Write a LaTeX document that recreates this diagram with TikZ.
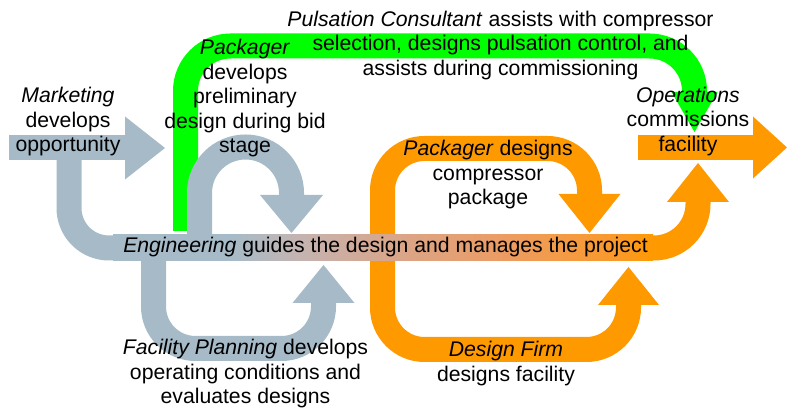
\documentclass[tikz,border=0pt]{standalone}
\usepackage{fontspec}
\setmainfont{Liberation Sans}
\usetikzlibrary{arrows.meta}

\definecolor{bluegray}{RGB}{166,187,199}
\definecolor{amber}{RGB}{255,153,0}
\definecolor{lime}{RGB}{0,255,0}
\definecolor{rosy}{RGB}{196,180,178}
\definecolor{tan}{RGB}{216,166,140}
\definecolor{peach}{RGB}{236,156,100}
\definecolor{deeporange}{RGB}{250,153,40}
\pgfdeclarehorizontalshading{engshade}{100bp}{color(0bp)=(bluegray); color(36bp)=(bluegray); color(42bp)=(rosy); color(50.5bp)=(tan); color(61bp)=(peach); color(72bp)=(deeporange); color(75bp)=(amber); color(100bp)=(amber)}

\begin{document}
\begin{tikzpicture}[x=1pt,y=1pt,
	band/.style={line width=25pt},
	gray band/.style={band,draw=bluegray},
	orange band/.style={band,draw=amber},
	green band/.style={band,draw=lime},
	bighead/.style 2 args={-{Triangle[width=#1,length=#2,line width=0pt]}},
	label/.style={align=center,inner sep=0pt,font=\fontsize{21.2}{24.5}\selectfont}]
	
	\useasboundingbox (0,0) rectangle (788,411);
	
	% green loop, behind everything
	\coordinate (pc1) at (185.5,180);
	\coordinate (pc2) at (185.5,365);
	\coordinate (pc3) at (694.5,365);
	\coordinate (pc4) at (694.5,279);
	\draw[green band,rounded corners=45pt,bighead={46pt}{40pt}] (pc1) -- (pc2) -- (pc3) -- (pc4);
	
	% marketing
	\coordinate (mk1) at (9,263);
	\coordinate (mk2) at (165,263);
	\draw[gray band,bighead={63pt}{40pt}] (mk1) -- (mk2);
	
	% engineering, left and right ends
	\coordinate (en1) at (69,251);
	\coordinate (en2) at (69,163);
	\coordinate (en3) at (118,163);
	\draw[gray band,rounded corners=40pt] (en1) -- (en2) -- (en3);
	\coordinate (en4) at (648,163);
	\coordinate (en5) at (698,163);
	\coordinate (en6) at (698,248);
	\draw[orange band,rounded corners=44pt,bighead={62pt}{39pt}] (en4) -- (en5) -- (en6);
	
	% packager, bid stage
	\coordinate (pb1) at (199.5,176);
	\coordinate (pb2) at (291.5,178);
	\draw[gray band,bighead={63pt}{38pt}] (pb1) -- ++(0,42) arc[start angle=180,end angle=0,radius=46] -- (pb2);
	
	% facility planning
	\coordinate (fp1) at (153.5,152);
	\coordinate (fp2) at (153.5,62.5);
	\coordinate (fp3) at (323.5,62.5);
	\coordinate (fp4) at (323.5,146);
	\draw[gray band,rounded corners=42pt,bighead={62pt}{38pt}] (fp1) -- (fp2) -- (fp3) -- (fp4);
	
	% packager designs and design firm
	\coordinate (pd1) at (382.5,163);
	\coordinate (pd2) at (382.5,262.5);
	\coordinate (pd3) at (589.5,262.5);
	\coordinate (pd4) at (589.5,178);
	\draw[orange band,rounded corners=42pt,bighead={62pt}{39pt}] (pd1) -- (pd2) -- (pd3) -- (pd4);
	\coordinate (df1) at (382.5,163);
	\coordinate (df2) at (382.5,61.5);
	\coordinate (df3) at (628.5,61.5);
	\coordinate (df4) at (628.5,144);
	\draw[orange band,rounded corners=42pt,bighead={61pt}{38pt}] (df1) -- (df2) -- (df3) -- (df4);
	
	% operations
	\coordinate (op1) at (638,263.5);
	\coordinate (op2) at (787,263.5);
	\draw[orange band,bighead={62pt}{34pt}] (op1) -- (op2);
	
	% engineering band
	\shade[shading=engshade] (113,150) rectangle (653,176);
	
	% texts
	\node[label] (mkt) at (68,289) {\textit{Marketing}\\develops\\opportunity};
	\node[label] (pkb) at (245,312.5) {\textit{Packager}\\develops\\preliminary\\design during bid\\stage};
	\node[label] (pls) at (500.5,365.5) {\textit{Pulsation Consultant} assists with compressor\\selection, designs pulsation control, and\\assists during commissioning};
	\node[label] (ops) at (688,289.5) {\textit{Operations}\\commissions\\facility};
	\node[label] (pkd) at (488,236) {\textit{Packager} designs\\compressor\\package};
	\node[label] (eng) at (385.5,164) {\textit{Engineering} guides the design and manages the project};
	\node[label] (fac) at (245.5,37) {\textit{Facility Planning} develops\\operating conditions and\\evaluates designs};
	\node[label] (dsf) at (506,47.5) {\textit{Design Firm}\\designs facility};
\end{tikzpicture}
\end{document}
